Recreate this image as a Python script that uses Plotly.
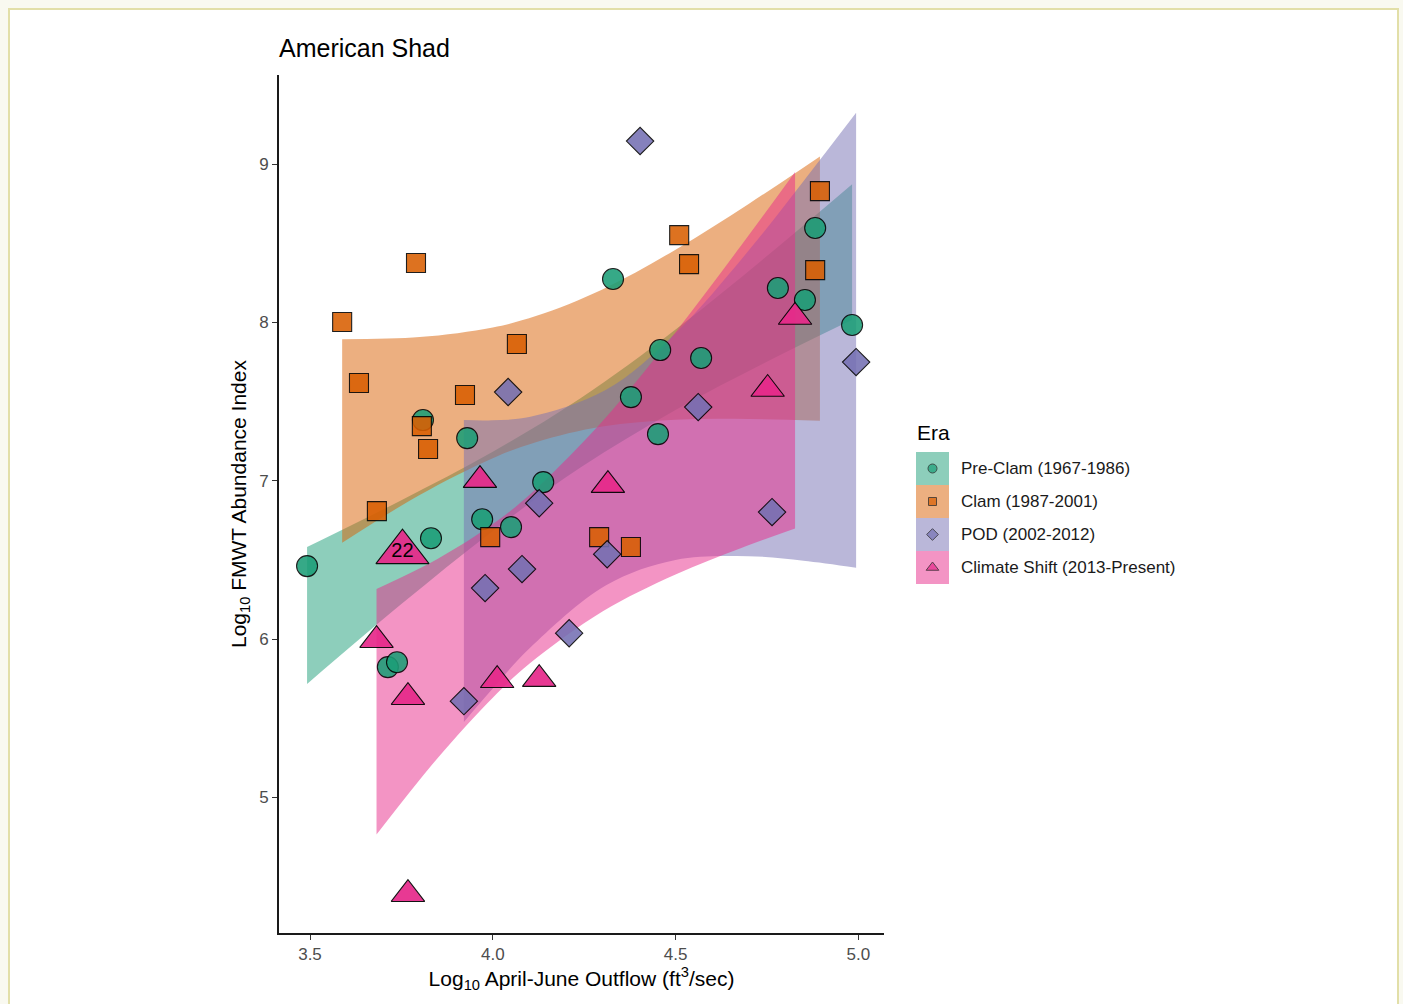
import plotly.graph_objects as go

# ---------------- Data: log10 April-June outflow vs log10 FMWT index ----------------
preclam_x = [3.492, 3.713, 3.738, 3.809, 3.831, 3.930, 3.971, 4.050, 4.138,
             4.329, 4.378, 4.452, 4.458, 4.570, 4.780, 4.854, 4.882, 4.983]
preclam_y = [6.461, 5.823, 5.854, 7.383, 6.637, 7.269, 6.757, 6.707, 6.991,
             8.274, 7.528, 7.294, 7.825, 7.775, 8.217, 8.141, 8.596, 7.983]

clam_x = [3.588, 3.634, 3.790, 3.806, 3.823, 3.683, 3.924, 4.066,
          3.993, 4.291, 4.378, 4.510, 4.537, 4.882, 4.895]
clam_y = [8.002, 7.617, 8.375, 7.345, 7.200, 6.808, 7.541, 7.863,
          6.644, 6.644, 6.581, 8.551, 8.368, 8.330, 8.829]

pod_x = [4.403, 4.042, 4.562, 4.994, 4.127, 4.080, 3.979, 4.313, 4.209, 3.921, 4.764]
pod_y = [9.145, 7.560, 7.465, 7.749, 6.858, 6.442, 6.322, 6.536, 6.037, 5.608, 6.802]

climate_x = [3.682, 3.768, 3.768, 3.965, 4.012, 4.127, 4.315, 4.752, 4.827, 3.753]
climate_y = [5.993, 5.633, 4.389, 7.004, 5.740, 5.747, 6.972, 7.579, 8.034, 6.549]
climate_labels = ["", "", "", "", "", "", "", "", "", "22"]

# ---------------- Fitted 95% confidence ribbons per era ----------------
preclam_band_x = [3.492, 3.75, 4.00, 4.24, 4.50, 4.75, 4.983]
preclam_band_lo = [5.717, 6.221, 6.683, 7.083, 7.447, 7.751, 8.016]
preclam_band_hi = [6.581, 6.877, 7.183, 7.521, 7.955, 8.419, 8.872]

clam_band_x = [3.588, 3.80, 4.00, 4.12, 4.30, 4.50, 4.70, 4.895]
clam_band_lo = [6.608, 6.910, 7.142, 7.245, 7.342, 7.385, 7.390, 7.379]
clam_band_hi = [7.894, 7.907, 7.968, 8.041, 8.208, 8.459, 8.748, 9.048]

pod_band_x = [3.921, 4.00, 4.10, 4.31, 4.50, 4.70, 4.85, 4.994]
pod_band_lo = [5.477, 5.688, 5.940, 6.340, 6.500, 6.523, 6.495, 6.451]
pod_band_hi = [7.383, 7.382, 7.402, 7.574, 7.932, 8.453, 8.891, 9.323]

climate_band_x = [3.682, 3.85, 4.00, 4.10, 4.30, 4.50, 4.68, 4.827]
climate_band_lo = [4.766, 5.251, 5.630, 5.844, 6.174, 6.408, 6.575, 6.698]
climate_band_hi = [6.316, 6.507, 6.726, 6.910, 7.376, 7.938, 8.487, 8.950]

era_names = ["Pre-Clam (1967-1986)", "Clam (1987-2001)",
             "POD (2002-2012)", "Climate Shift (2013-Present)"]

x_ticks = [3.5, 4.0, 4.5, 5.0]
y_ticks = [5, 6, 7, 8, 9]

# ---------------- Styling ----------------
colors = ["#1B9E77", "#D95F02", "#7570B3", "#E7298A"]
symbols = ["circle", "square", "diamond", "triangle-up"]
point_sizes = [21, 19, 21, 29]
labelled_size = 46
FONT = "Liberation Sans, Arial, sans-serif"


def rgba(hex_color, a):
    h = hex_color.lstrip("#")
    r, g, b = int(h[0:2], 16), int(h[2:4], 16), int(h[4:6], 16)
    return f"rgba({r},{g},{b},{a})"


fig = go.Figure()

# Ribbons: lower edge, then upper edge filled down to it
bands = [
    (preclam_band_x, preclam_band_lo, preclam_band_hi),
    (clam_band_x, clam_band_lo, clam_band_hi),
    (pod_band_x, pod_band_lo, pod_band_hi),
    (climate_band_x, climate_band_lo, climate_band_hi),
]
for (bx, lo, hi), col in zip(bands, colors):
    fig.add_trace(go.Scatter(x=bx, y=lo, mode="lines",
                             line=dict(width=0, shape="spline", color=col),
                             showlegend=False, hoverinfo="skip"))
    fig.add_trace(go.Scatter(x=bx, y=hi, mode="lines",
                             line=dict(width=0, shape="spline", color=col),
                             fill="tonexty", fillcolor=rgba(col, 0.5),
                             showlegend=False, hoverinfo="skip"))

# Points
series = [(preclam_x, preclam_y), (clam_x, clam_y), (pod_x, pod_y)]
for (sx, sy), col, sym, sz, name in zip(series, colors, symbols, point_sizes, era_names):
    fig.add_trace(go.Scatter(
        x=sx, y=sy, mode="markers", name=name, showlegend=False,
        marker=dict(symbol=sym, size=sz, color=col, opacity=0.88,
                    line=dict(color="#000000", width=1.1))))

climate_sizes = [labelled_size if lab else point_sizes[3] for lab in climate_labels]
fig.add_trace(go.Scatter(
    x=climate_x, y=climate_y, mode="markers", name=era_names[3], showlegend=False,
    marker=dict(symbol="triangle-up", size=climate_sizes, color=colors[3], opacity=0.92,
                line=dict(color="#000000", width=1.1))))

# Year label on the highlighted point
lab_idx = [i for i, lab in enumerate(climate_labels) if lab]
fig.add_trace(go.Scatter(
    x=[climate_x[i] for i in lab_idx], y=[climate_y[i] for i in lab_idx],
    text=[climate_labels[i] for i in lab_idx], mode="text",
    textposition="middle center", showlegend=False, hoverinfo="skip",
    textfont=dict(family=FONT, size=20, color="#000000")))

# Legend keys drawn on a small pixel-scaled helper axis
key_top = 452
key_h = 33
key_centers = [key_top + key_h * (i + 0.5) for i in range(4)]
legend_sizes = [9, 8, 9, 11]
fig.add_trace(go.Scatter(
    x=[932.5] * 4, y=key_centers, mode="markers", xaxis="x2", yaxis="y2",
    showlegend=False, hoverinfo="skip",
    marker=dict(symbol=symbols, size=legend_sizes, color=colors,
                line=dict(color="#1a1a1a", width=1))))

shapes = []
# page panel with thin border
shapes.append(dict(type="rect", xref="paper", yref="paper",
                   x0=(9 - 279) / 921, x1=(1398 - 279) / 921,
                   y0=(933 - 1012) / 858, y1=(933 - 9) / 858,
                   fillcolor="#ffffff", line=dict(color="#e2dfa8", width=2),
                   layer="below"))
for i, col in enumerate(colors):
    shapes.append(dict(type="rect", xref="x2", yref="y2",
                       x0=916, x1=949, y0=key_top + key_h * i, y1=key_top + key_h * (i + 1),
                       fillcolor=rgba(col, 0.5), line=dict(width=0), layer="below"))

annotations = [
    dict(text="Era", xref="x2", yref="y2", x=915, y=432, xanchor="left",
         yanchor="middle", showarrow=False,
         font=dict(family=FONT, size=21, color="#000000")),
]
for name, yc in zip(era_names, key_centers):
    annotations.append(dict(text=name, xref="x2", yref="y2", x=959, y=yc,
                            xanchor="left", yanchor="middle", showarrow=False,
                            font=dict(family=FONT, size=17, color="#1a1a1a")))

axis_common = dict(showgrid=False, zeroline=False, showline=True, linecolor="#1a1a1a",
                   linewidth=1.6, ticks="outside", ticklen=5, tickwidth=1.3,
                   tickcolor="#333333", mirror=False,
                   tickfont=dict(family=FONT, size=17, color="#4d4d4d"))

fig.update_layout(
    width=1403, height=1004,
    margin=dict(l=279, r=203, t=75, b=71),
    paper_bgcolor="#f9f9f0",
    plot_bgcolor="rgba(0,0,0,0)",
    showlegend=False,
    font=dict(family=FONT),
    title=dict(text="American Shad", xref="container", yref="container",
               x=279 / 1403, y=1 - 48 / 1004, xanchor="left", yanchor="middle",
               font=dict(family=FONT, size=25, color="#000000")),
    xaxis=dict(domain=[0, (884 - 279) / 921], range=[3.4152, 5.0703],
               tickvals=x_ticks, ticktext=[f"{v:.1f}" for v in x_ticks],
               anchor="y",
               title=dict(text="Log<sub>10</sub> April-June Outflow (ft<sup>3</sup>/sec)",
                          standoff=6, font=dict(family=FONT, size=21, color="#000000")),
               **axis_common),
    yaxis=dict(range=[4.144, 9.562], tickvals=y_ticks,
               ticktext=[str(v) for v in y_ticks], anchor="x",
               title=dict(text="Log<sub>10</sub> FMWT Abundance Index",
                          standoff=7, font=dict(family=FONT, size=21, color="#000000")),
               **axis_common),
    xaxis2=dict(domain=[(900 - 279) / 921, 1], range=[900, 1200], visible=False,
                anchor="y2", fixedrange=True),
    yaxis2=dict(domain=[(933 - 600) / 858, (933 - 420) / 858], range=[600, 420],
                visible=False, anchor="x2", fixedrange=True),
    shapes=shapes,
    annotations=annotations,
)

fig.write_html("out.html")
